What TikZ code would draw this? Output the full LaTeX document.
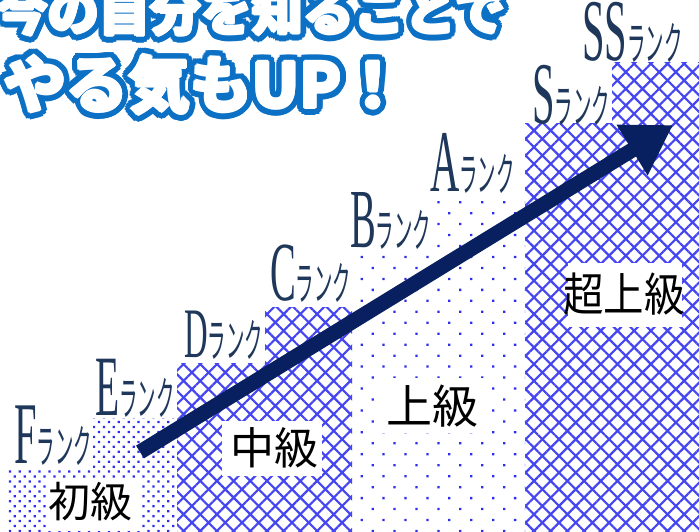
\documentclass[tikz,border=0pt]{standalone}
\usepackage{graphicx}
\usepackage{fontspec}
\newfontfamily\jp{Noto Sans CJK JP}
\newfontfamily\rk{Liberation Serif}
\usetikzlibrary{patterns.meta,arrows.meta,calc}
\definecolor{ttl}{RGB}{12,112,196}
\definecolor{navy}{RGB}{8,32,96}
\definecolor{rankc}{RGB}{30,55,90}
\definecolor{pblue}{RGB}{45,45,240}
\definecolor{hblue}{RGB}{70,70,240}
\tikzset{
  densedots/.style={pattern={Dots[radius=1.6pt,distance=7pt,angle=45]},pattern color=pblue},
  sparsedots/.style={pattern={Dots[radius=1.6pt,distance=15.5pt,angle=45]},pattern color=pblue},
  crosshatch/.style={pattern={Hatch[angle=45,distance=11.8pt,line width=2.2pt]},pattern color=hblue},
  lvlbox/.style={fill=white},
  lvltext/.style={inner sep=0,text=black},
  ranklab/.style={anchor=base west,inner sep=0,text=rankc},
  bigarrow/.style={draw=navy,line width=15pt,-{Triangle[length=48pt,width=56pt]}},
}
\newcommand\ranktext[2]{\scalebox{0.46}[1]{\fontsize{#2}{#2}\rk #1}\scalebox{0.4}[1]{\fontsize{46}{46}\jp ランク}}
\newcommand\outlined[5]{%
  \foreach \a in {0,15,...,345}{%
    \node[anchor=base west,inner sep=0,text=ttl] at ($(#1)+(\a:7)$) {\fontsize{#2}{#2}\jp\bfseries #3};
    \node[anchor=base west,inner sep=0,text=ttl] at ($(#1)+(\a:3.5)$) {\fontsize{#2}{#2}\jp\bfseries #3};
  }
  \foreach \a in {0,45,...,315}{%
    \node[anchor=base west,inner sep=0,text=white] at ($(#1)+(\a:1.3)$) {\fontsize{#2}{#2}\jp\bfseries #3};
  }
  \node[anchor=base west,inner sep=0,text=white] (#4) at (#1) {\fontsize{#2}{#2}\jp\bfseries #3};%
}
\begin{document}
\begin{tikzpicture}[x=1pt,y=-1pt]
\clip (0,0) rectangle (699,531);
\useasboundingbox (0,0) rectangle (699,531);
\fill[white] (0,0) rectangle (699,531);
% bars
\path[densedots] (7,468) rectangle (93,531);
\path[densedots] (93,418) rectangle (177,531);
\path[crosshatch] (177,363) rectangle (265,531);
\path[crosshatch] (265,307) rectangle (352,531);
\path[sparsedots] (352,250) rectangle (432,531);
\path[sparsedots] (432,197) rectangle (525,531);
\path[crosshatch] (525,123) rectangle (612,531);
\path[crosshatch] (612,62) rectangle (699,531);
% level boxes
\path[lvlbox] (47,478) rectangle (140,531);
\path[lvlbox] (222,421) rectangle (322,476);
\path[lvlbox] (377,378) rectangle (488,433);
\path[lvlbox] (568,263) rectangle (682,327);
\node[lvltext] (lv1) at (90,502) {\fontsize{42}{42}\jp 初級};
\node[lvltext] (lv2) at (274,448) {\fontsize{44}{44}\jp 中級};
\node[lvltext] (lv3) at (432,406) {\fontsize{46}{46}\jp 上級};
\node[lvltext] (lv4) at (624,294) {\scalebox{0.88}[1]{\fontsize{46}{46}\jp 超上級}};
% rank labels
\node[ranklab] (rF) at (14,463) {\ranktext{F}{88}};
\node[ranklab] (rE) at (95,415) {\ranktext{E}{86}};
\node[ranklab] (rD) at (184,357) {\ranktext{D}{71}};
\node[ranklab] (rC) at (270,300) {\ranktext{C}{84}};
\node[ranklab] (rB) at (350,247) {\ranktext{B}{84}};
\node[ranklab] (rA) at (430,191) {\ranktext{A}{88}};
\node[ranklab] (rS) at (532,123) {\ranktext{S}{88}};
\node[ranklab] (rSS) at (582,60) {\ranktext{SS}{88}};
% arrow
\coordinate (astart) at (140,452);
\coordinate (aend) at (673,125);
\draw[bigarrow] (astart) -- (aend);
% title
\coordinate (t1) at (-3,31);
\coordinate (t2) at (4,108);
\outlined{t1}{51}{今の自分を知ることで}{title1}{}
\outlined{t2}{62}{やる気もUP！}{title2}{}
\end{tikzpicture}
\end{document}
